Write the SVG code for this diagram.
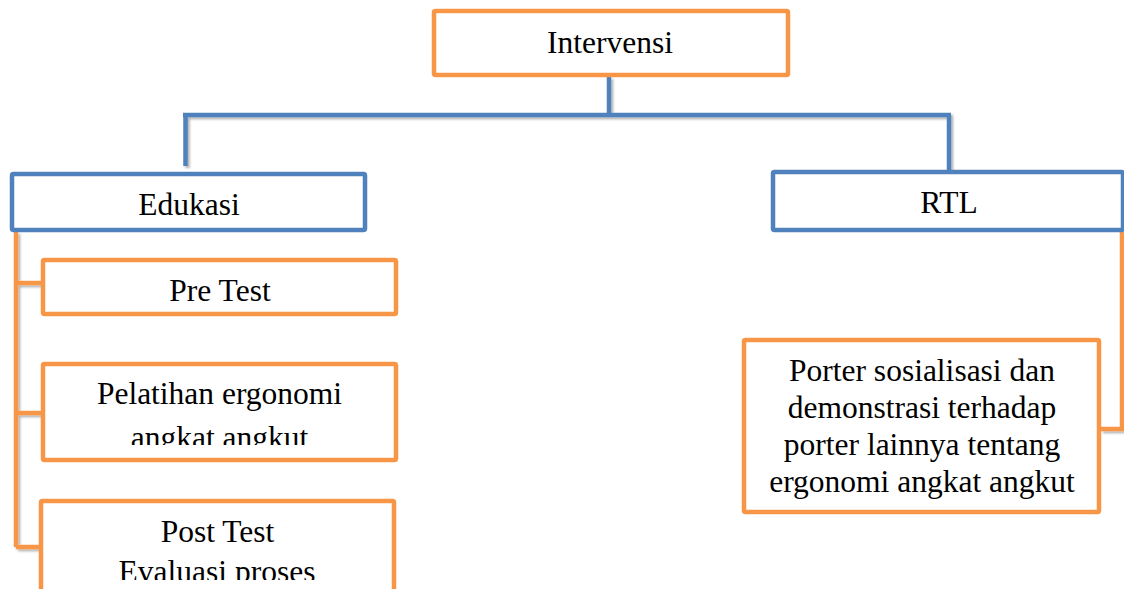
<svg xmlns="http://www.w3.org/2000/svg" width="1124" height="589" viewBox="0 0 1124 589">
<style>
.ob{fill:#fff;stroke:#F79646;stroke-width:4.5}
.bb{fill:#fff;stroke:#4F81BD;stroke-width:4.5}
.t{font-family:"Liberation Serif","Times New Roman",serif;font-size:31.5px;fill:#000;text-anchor:middle}
.cb{fill:none;stroke:#4F81BD;stroke-width:4.5}
.co{fill:none;stroke:#F79646;stroke-width:4.5}
</style>
<defs>
<filter id="sh" x="-5%" y="-5%" width="110%" height="110%">
<feDropShadow dx="2" dy="2" stdDeviation="1.2" flood-color="#000" flood-opacity="0.3"/>
</filter>
<clipPath id="c1"><rect x="43" y="364" width="353" height="81"/></clipPath>
<clipPath id="c2"><rect x="41" y="501" width="353" height="79"/></clipPath>
</defs>
<rect width="1124" height="589" fill="#fff"/>
<g id="connectors" filter="url(#sh)">
<path class="cb" d="M609 77V113M183 115H951M185.5 115V166M949 115V172"/>
<path class="co" d="M16 232V547M16 283H42M16 413H42M16 547H40"/>
<path class="co" d="M1122 232V429H1101"/>
</g>
<g id="intervensi">
<rect class="ob" x="434" y="11" width="354" height="64" rx="1.5"/>
<text class="t" x="610" y="53">Intervensi</text>
</g>
<g id="edukasi">
<rect class="bb" x="12" y="174" width="353" height="56" rx="1.5"/>
<text class="t" x="189" y="215">Edukasi</text>
</g>
<g id="rtl">
<rect class="bb" x="773" y="172" width="350" height="58" rx="1.5"/>
<text class="t" x="949" y="213">RTL</text>
</g>
<g id="pretest">
<rect class="ob" x="43" y="260" width="353" height="54" rx="1.5"/>
<text class="t" x="220" y="301">Pre Test</text>
</g>
<g id="pelatihan">
<rect class="ob" x="43" y="364" width="353" height="96" rx="1.5"/>
<g clip-path="url(#c1)">
<text class="t" x="219.5" y="404">Pelatihan ergonomi</text>
<text class="t" x="219.5" y="448">angkat angkut</text>
</g>
</g>
<g id="posttest">
<rect class="ob" x="41" y="501" width="353" height="120" rx="1.5"/>
<g clip-path="url(#c2)">
<text class="t" x="217.5" y="542">Post Test</text>
<text class="t" x="217" y="582">Evaluasi proses</text>
</g>
</g>
<g id="porter">
<rect class="ob" x="744" y="340" width="355" height="172" rx="1.5"/>
<text class="t" x="922" y="381">Porter sosialisasi dan</text>
<text class="t" x="922" y="418">demonstrasi terhadap</text>
<text class="t" x="922" y="455">porter lainnya tentang</text>
<text class="t" x="922" y="492">ergonomi angkat angkut</text>
</g>
</svg>
